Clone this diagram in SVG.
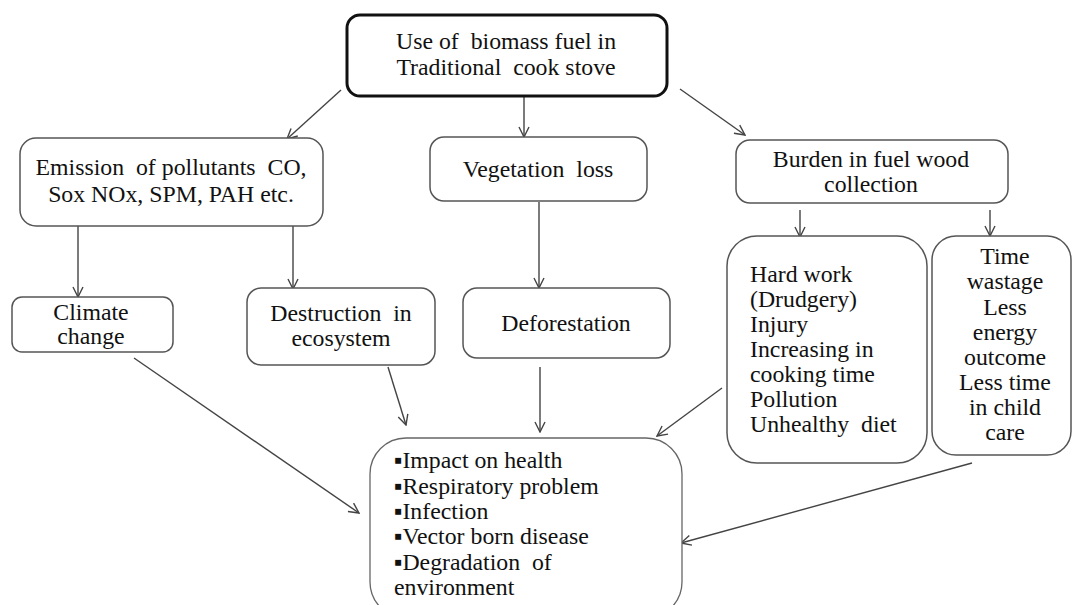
<svg xmlns="http://www.w3.org/2000/svg" width="1072" height="605" viewBox="0 0 1072 605">
<style>
.box{fill:#fff;stroke:#555;stroke-width:1.5}
.t{font-family:"Liberation Serif","Times New Roman",serif;font-size:23.8px;fill:#111;white-space:pre}
.c{text-anchor:middle}
.ln{stroke:#444;stroke-width:1.4;fill:none;marker-end:url(#ah)}
</style>
<defs>
<marker id="ah" viewBox="0 0 12 12" refX="11" refY="6" markerWidth="12" markerHeight="12" markerUnits="userSpaceOnUse" orient="auto">
<path d="M1,1 L11,6 L1,11" fill="none" stroke="#444" stroke-width="1.4"/>
</marker>
</defs>
<rect width="1072" height="605" fill="#fff"/>
<g id="connectors">
<line class="ln" x1="341" y1="90" x2="287" y2="139"/>
<line class="ln" x1="524" y1="97" x2="524" y2="137"/>
<line class="ln" x1="680" y1="89" x2="745" y2="135"/>
<line class="ln" x1="78" y1="226" x2="78" y2="297"/>
<line class="ln" x1="293" y1="217" x2="293" y2="289"/>
<line class="ln" x1="539" y1="202" x2="539" y2="288"/>
<line class="ln" x1="800" y1="210" x2="800" y2="237"/>
<line class="ln" x1="990" y1="210" x2="990" y2="236"/>
<line class="ln" x1="134" y1="358" x2="359" y2="513"/>
<line class="ln" x1="388" y1="367" x2="406" y2="425"/>
<line class="ln" x1="540" y1="367" x2="540" y2="432"/>
<line class="ln" x1="722" y1="388" x2="657" y2="436"/>
<line class="ln" x1="972" y1="463" x2="681" y2="543"/>
</g>
<g id="n-top">
<rect x="347" y="15" width="320" height="81" rx="13" fill="#fff" stroke="#111" stroke-width="3"/>
<text class="t c" x="506" y="49" xml:space="preserve">Use of  biomass fuel in</text>
<text class="t c" x="506" y="75" xml:space="preserve">Traditional  cook stove</text>
</g>
<g id="n-emission">
<rect class="box" x="20" y="138" width="303" height="88" rx="16"/>
<text class="t c" x="171" y="175" xml:space="preserve">Emission  of pollutants  CO,</text>
<text class="t c" x="171" y="202">Sox NOx, SPM, PAH etc.</text>
</g>
<g id="n-vegetation">
<rect class="box" x="430" y="137" width="217" height="64" rx="14"/>
<text class="t c" x="538" y="177" xml:space="preserve">Vegetation  loss</text>
</g>
<g id="n-burden">
<rect class="box" x="736" y="140" width="272" height="63" rx="14"/>
<text class="t c" x="871" y="167">Burden in fuel wood</text>
<text class="t c" x="871" y="192">collection</text>
</g>
<g id="n-climate">
<rect class="box" x="12" y="297" width="161" height="55" rx="10"/>
<text class="t c" x="91" y="320">Climate</text>
<text class="t c" x="91" y="344">change</text>
</g>
<g id="n-destruction">
<rect class="box" x="247" y="288" width="188" height="77" rx="14"/>
<text class="t c" x="341" y="321" xml:space="preserve">Destruction  in</text>
<text class="t c" x="341" y="346">ecosystem</text>
</g>
<g id="n-deforestation">
<rect class="box" x="463" y="288" width="207" height="70" rx="14"/>
<text class="t c" x="566" y="331">Deforestation</text>
</g>
<g id="n-hardwork">
<rect class="box" x="727" y="236" width="200" height="227" rx="30"/>
<text class="t" x="750" y="282">Hard work</text>
<text class="t" x="750" y="307">(Drudgery)</text>
<text class="t" x="750" y="332">Injury</text>
<text class="t" x="750" y="357">Increasing in</text>
<text class="t" x="750" y="382">cooking time</text>
<text class="t" x="750" y="407">Pollution</text>
<text class="t" x="750" y="432" xml:space="preserve">Unhealthy  diet</text>
</g>
<g id="n-time">
<rect class="box" x="932" y="236" width="139" height="219" rx="24"/>
<text class="t c" x="1005" y="264">Time</text>
<text class="t c" x="1005" y="289">wastage</text>
<text class="t c" x="1005" y="315">Less</text>
<text class="t c" x="1005" y="340">energy</text>
<text class="t c" x="1005" y="365">outcome</text>
<text class="t c" x="1005" y="390">Less time</text>
<text class="t c" x="1005" y="415">in child</text>
<text class="t c" x="1005" y="440">care</text>
</g>
<g id="n-impact">
<rect x="370" y="438" width="312" height="180" rx="36" fill="#fff" stroke="#666" stroke-width="1.3"/>
<text class="t" x="394" y="468">▪Impact on health</text>
<text class="t" x="394" y="494">▪Respiratory problem</text>
<text class="t" x="394" y="519">▪Infection</text>
<text class="t" x="394" y="544">▪Vector born disease</text>
<text class="t" x="394" y="570" xml:space="preserve">▪Degradation  of</text>
<text class="t" x="394" y="595">environment</text>
</g>
</svg>
